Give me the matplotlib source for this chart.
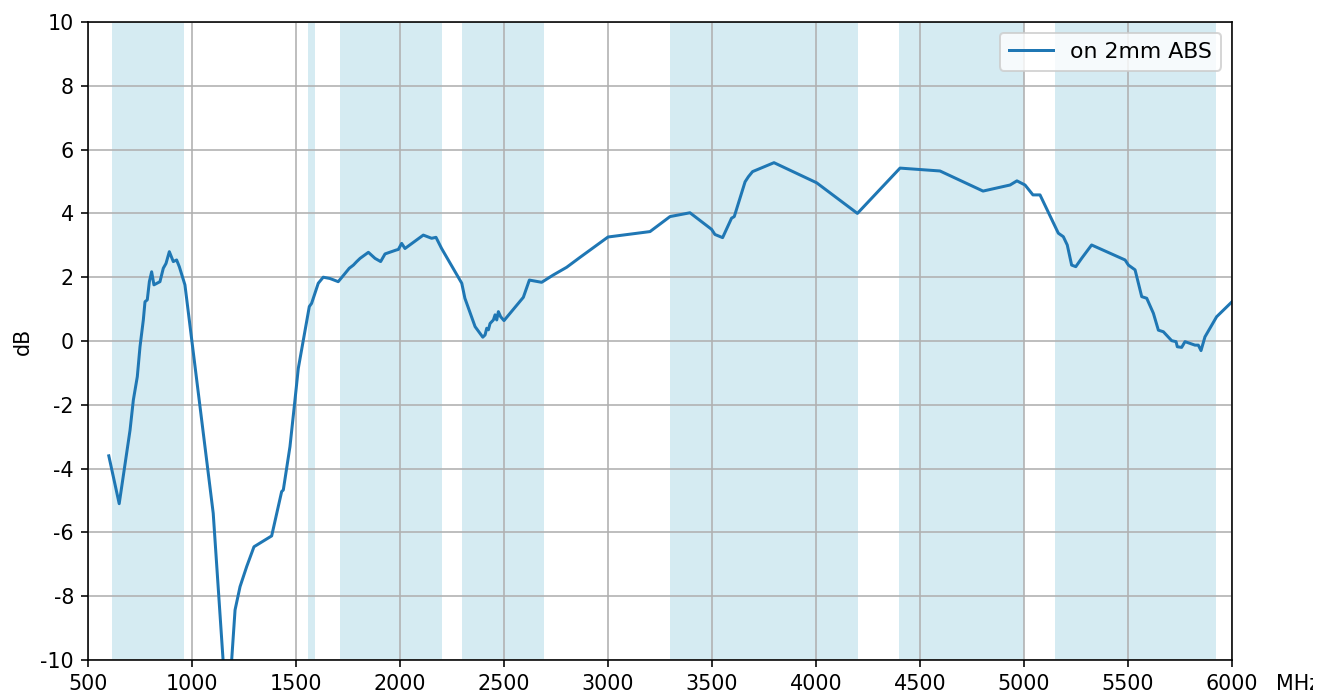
import matplotlib
matplotlib.use("Agg")
import matplotlib.pyplot as plt
from matplotlib.transforms import Bbox, TransformedBbox

plt.rcParams['axes.unicode_minus'] = False
plt.rcParams['font.size'] = 10.3

freq_mhz = [600, 650, 702, 718, 737, 750, 766, 774, 785, 795, 806, 817, 846, 862, 875,
            891, 910, 926, 939, 966, 1102, 1170, 1207, 1231, 1263, 1298, 1383, 1431,
            1439, 1471, 1495, 1511, 1564, 1575, 1607, 1631, 1663, 1703, 1736, 1756,
            1776, 1792, 1808, 1848, 1880, 1907, 1928, 1981, 1992, 2008, 2024, 2112,
            2152, 2173, 2200, 2297, 2312, 2361, 2398, 2409, 2417, 2425, 2433, 2449,
            2457, 2465, 2473, 2484, 2500, 2593, 2622, 2681, 2737, 2801, 2865, 3000,
            3202, 3298, 3394, 3498, 3514, 3551, 3594, 3607, 3659, 3675, 3695, 3798,
            4003, 4199, 4404, 4596, 4803, 4933, 4966, 5005, 5043, 5077, 5165, 5189,
            5208, 5229, 5249, 5277, 5325, 5486, 5502, 5534, 5566, 5590, 5622, 5646,
            5670, 5710, 5731, 5737, 5758, 5774, 5822, 5838, 5851, 5870, 5926, 6000]
gain_db = [-3.6, -5.1, -2.8, -1.85, -1.12, -0.18, 0.66, 1.23, 1.29, 1.86, 2.17, 1.76,
           1.86, 2.28, 2.43, 2.8, 2.49, 2.54, 2.33, 1.76, -5.4, -12.0, -8.43, -7.7,
           -7.07, -6.45, -6.11, -4.72, -4.67, -3.31, -1.85, -0.86, 1.08, 1.18, 1.81,
           2.0, 1.96, 1.86, 2.12, 2.28, 2.38, 2.49, 2.59, 2.78, 2.59, 2.49, 2.73, 2.85,
           2.87, 3.06, 2.9, 3.32, 3.22, 3.25, 2.9, 1.81, 1.34, 0.45, 0.12, 0.19, 0.4,
           0.35, 0.55, 0.66, 0.82, 0.66, 0.92, 0.76, 0.64, 1.37, 1.91, 1.84, 2.07,
           2.31, 2.62, 3.26, 3.43, 3.9, 4.02, 3.5, 3.34, 3.24, 3.85, 3.9, 4.99, 5.15,
           5.31, 5.59, 4.96, 4.0, 5.42, 5.33, 4.7, 4.89, 5.02, 4.89, 4.58, 4.58, 3.38,
           3.27, 3.01, 2.38, 2.33, 2.59, 3.01, 2.54, 2.38, 2.23, 1.39, 1.34, 0.87,
           0.34, 0.29, 0.01, -0.02, -0.18, -0.2, -0.02, -0.13, -0.13, -0.3, 0.13,
           0.76, 1.23]

band_start = [617, 1560, 1710, 2300, 3300, 4400, 5150]
band_end = [960, 1590, 2200, 2690, 4200, 5000, 5925]

x_ticks = list(range(500, 6001, 500))
y_ticks = list(range(-10, 11, 2))

W, H = 1327, 698
fig = plt.figure(figsize=(W / 144, H / 144), dpi=144)
ax = fig.add_axes([88 / W, 1 - 660 / H, (1232 - 88) / W, (660 - 22) / H])

for s, e in zip(band_start, band_end):
    ax.axvspan(s, e, color='lightblue', alpha=0.5, lw=0)

ax.plot(freq_mhz, gain_db, color='#1f77b4', lw=1.5, label='on 2mm ABS')

ax.set_xlim(500, 6000)
ax.set_ylim(-10, 10)
ax.set_xticks(x_ticks)
ax.set_yticks(y_ticks)
ax.grid(True)
ax.set_ylabel('dB')
t = ax.annotate('MHz', xy=(1, 0), xycoords='axes fraction', xytext=(22, -7),
                textcoords='offset points', ha='left', va='top',
                annotation_clip=False)
t.set_clip_box(TransformedBbox(Bbox([[0, 0], [1313 / W, 1]]), fig.transFigure))
t.set_clip_on(True)
ax.legend(loc='upper right', fontsize=11)

fig.savefig('out.png', dpi=144)
